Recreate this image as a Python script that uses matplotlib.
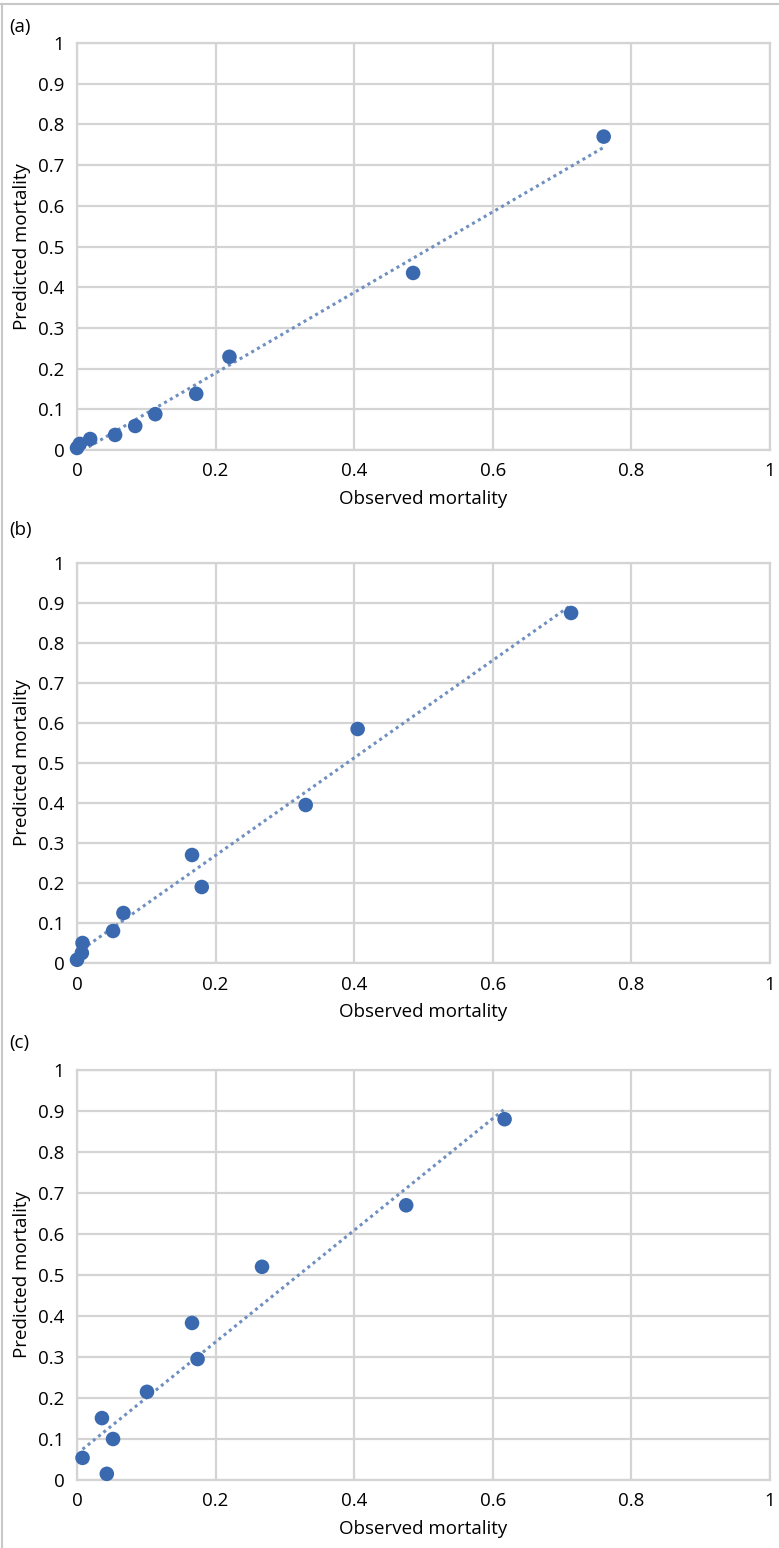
import numpy as np
import matplotlib
matplotlib.use("Agg")
from matplotlib import pyplot as plt
from matplotlib.lines import Line2D

# observed vs predicted mortality
obs_a = [0.0, 0.004, 0.019, 0.055, 0.084, 0.113, 0.172, 0.22, 0.485, 0.76]
pred_a = [0.005, 0.015, 0.027, 0.037, 0.059, 0.088, 0.138, 0.229, 0.435, 0.77]

obs_b = [0.0, 0.007, 0.008, 0.052, 0.067, 0.166, 0.18, 0.33, 0.405, 0.713]
pred_b = [0.008, 0.025, 0.05, 0.08, 0.125, 0.27, 0.19, 0.395, 0.585, 0.875]

obs_c = [0.008, 0.043, 0.036, 0.052, 0.101, 0.166, 0.174, 0.267, 0.475, 0.617]
pred_c = [0.054, 0.015, 0.151, 0.1, 0.215, 0.383, 0.295, 0.52, 0.67, 0.88]

panels = ['(a)', '(b)', '(c)']
ticks = np.arange(0, 1.01, 0.1)
ylabels = ['0', '0.1', '0.2', '0.3', '0.4', '0.5', '0.6', '0.7', '0.8', '0.9', '1']
xticks = np.arange(0, 1.01, 0.2)
xlabels = ['0', '0.2', '0.4', '0.6', '0.8', '1']

plt.rcParams['font.family'] = ['Open Sans', 'DejaVu Sans']

W, H = 779, 1548
dpi = 100
fig = plt.figure(figsize=(W/dpi, H/dpi), dpi=dpi)

# pixel boxes: left, right, top, bottom
boxes = [(77, 770, 43, 450), (77, 770, 563, 963), (77, 770, 1070, 1480)]
tag_y = [27, 530, 1043]
data = [(obs_a, pred_a), (obs_b, pred_b), (obs_c, pred_c)]

dot_col = '#3a69b0'
line_col = '#6f8fbf'
grid_col = '#d4d4d4'
fs = 13.5

for (l, r, t, b), (x, y), tag, ty in zip(boxes, data, panels, tag_y):
    ax = fig.add_axes([l/W, 1-b/H, (r-l)/W, (b-t)/H])
    ax.set_xlim(0, 1)
    ax.set_ylim(0, 1)
    ax.set_xticks(xticks)
    ax.set_xticklabels(xlabels)
    ax.set_yticks(ticks)
    ax.set_yticklabels(ylabels)
    ax.tick_params(length=0, labelsize=fs, pad=9, colors='black')
    ax.grid(True, color=grid_col, linewidth=1.6)
    ax.set_axisbelow(True)
    for s in ax.spines.values():
        s.set_color(grid_col)
        s.set_linewidth(1.6)

    x = np.array(x)
    y = np.array(y)
    k, c = np.polyfit(x, y, 1)
    xx = np.array([x.min(), x.max()])
    ax.plot(xx, k*xx + c, linestyle=(0, (1, 1.2)), color=line_col, linewidth=2.2, zorder=2)
    ax.scatter(x, y, s=110, color=dot_col, edgecolors='none', zorder=3, clip_on=False)

    ax.set_xlabel('Observed mortality', fontsize=fs, labelpad=7)
    ax.set_ylabel('Predicted mortality', fontsize=fs, labelpad=5)
    fig.text(9/W, 1-ty/H, tag, fontsize=fs, va='center', ha='left')

# thin frame round the figure (top and left)
fig.add_artist(Line2D([0, 1], [1-4/H, 1-4/H], color='#c8c8c8', linewidth=1.5))
fig.add_artist(Line2D([2/W, 2/W], [0, 1-4/H], color='#c8c8c8', linewidth=1.5))

fig.savefig('out.png', dpi=dpi)
